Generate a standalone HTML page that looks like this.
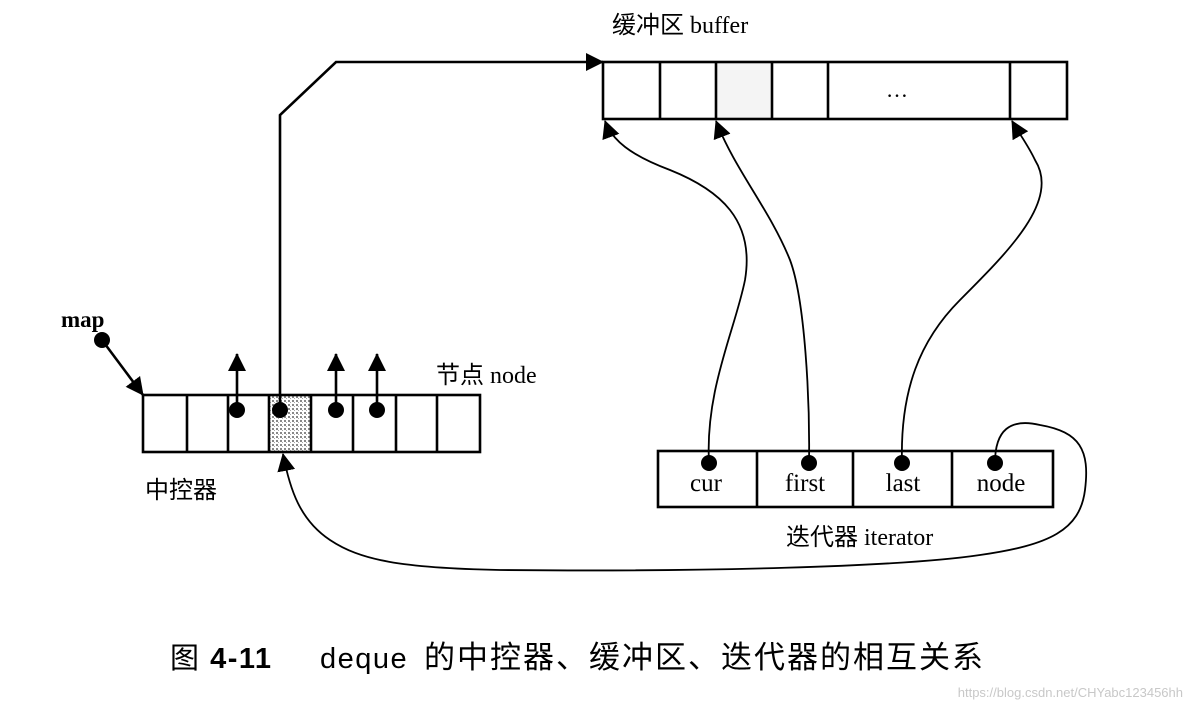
<!DOCTYPE html>
<html><head><meta charset="utf-8"><style>
html,body{margin:0;padding:0;background:#fff;}
svg{display:block}
text{font-family:"Liberation Serif","Noto Serif CJK SC",serif;fill:#000}
.cjk{font-family:"Liberation Serif","Noto Sans CJK SC",sans-serif}
</style></head><body>
<svg width="1195" height="705" viewBox="0 0 1195 705" xmlns="http://www.w3.org/2000/svg">
<defs>
<pattern id="dots" width="4" height="4" patternUnits="userSpaceOnUse">
<rect width="4" height="4" fill="#fff"/><rect x="0" y="0" width="2" height="2" fill="#888"/><rect x="2" y="2" width="1" height="1" fill="#aaa"/>
</pattern>
<marker id="ah2" markerWidth="18" markerHeight="18" refX="17" refY="9" orient="auto" markerUnits="userSpaceOnUse" viewBox="0 0 18 18"><path d="M0,0 L18,9 L0,18 z" fill="#000"/></marker>
</defs>
<g stroke="#000" stroke-width="2.6" fill="none">
<rect x="716" y="62" width="56" height="57" fill="#f4f4f4" stroke="none"/>
<rect x="603" y="62" width="464" height="57"/>
<line x1="660" y1="62" x2="660" y2="119"/><line x1="716" y1="62" x2="716" y2="119"/>
<line x1="772" y1="62" x2="772" y2="119"/><line x1="828" y1="62" x2="828" y2="119"/>
<line x1="1010" y1="62" x2="1010" y2="119"/>
<rect x="269" y="395" width="42" height="57" fill="url(#dots)" stroke="none"/>
<rect x="143" y="395" width="337" height="57"/>
<line x1="187" y1="395" x2="187" y2="452"/><line x1="228" y1="395" x2="228" y2="452"/>
<line x1="269" y1="395" x2="269" y2="452"/><line x1="311" y1="395" x2="311" y2="452"/>
<line x1="353" y1="395" x2="353" y2="452"/><line x1="396" y1="395" x2="396" y2="452"/>
<line x1="437" y1="395" x2="437" y2="452"/>
<rect x="658" y="451" width="395" height="56"/>
<line x1="757" y1="451" x2="757" y2="507"/><line x1="853" y1="451" x2="853" y2="507"/>
<line x1="952" y1="451" x2="952" y2="507"/>
<line x1="102" y1="340" x2="143" y2="395" marker-end="url(#ah2)"/>
<line x1="237" y1="410" x2="237" y2="354" marker-end="url(#ah2)"/>
<line x1="336" y1="410" x2="336" y2="354" marker-end="url(#ah2)"/>
<line x1="377" y1="410" x2="377" y2="354" marker-end="url(#ah2)"/>
<path d="M280 410 L280 115 L336 62 L603 62" marker-end="url(#ah2)"/>
<path d="M709 463 C705 390 735 330 745 280 C755 220 720 190 670 170 C630 155 612 140 605 121" stroke-width="1.8" marker-end="url(#ah2)"/>
<path d="M809 463 C810 400 805 300 790 260 C770 210 735 170 716 121" stroke-width="1.8" marker-end="url(#ah2)"/>
<path d="M902 463 C900 390 920 340 960 300 C1010 250 1060 200 1035 160 C1028 145 1020 135 1012 121" stroke-width="1.8" marker-end="url(#ah2)"/>
<path d="M995 463 C995 430 1010 418 1040 425 C1080 432 1090 450 1085 490 C1080 530 1050 545 980 555 C900 567 700 572 500 570 C400 568 360 560 330 540 C300 520 290 490 283 454" stroke-width="1.8" marker-end="url(#ah2)"/>
</g>
<g fill="#000">
<circle cx="102" cy="340" r="8"/>
<circle cx="237" cy="410" r="8"/><circle cx="280" cy="410" r="8"/>
<circle cx="336" cy="410" r="8"/><circle cx="377" cy="410" r="8"/>
<circle cx="709" cy="463" r="8"/><circle cx="809" cy="463" r="8"/>
<circle cx="902" cy="463" r="8"/><circle cx="995" cy="463" r="8"/>
</g>
<text x="886" y="97" font-size="22">…</text>
<text x="61" y="327" font-size="23" font-weight="bold">map</text>
<text x="436" y="383" font-size="24" class="cjk">节点 <tspan font-family="Liberation Serif">node</tspan></text>
<text x="145" y="498" font-size="24" class="cjk">中控器</text>
<text x="612" y="33" font-size="24" class="cjk">缓冲区 <tspan font-family="Liberation Serif">buffer</tspan></text>
<text x="706" y="491" font-size="25" text-anchor="middle">cur</text>
<text x="805" y="491" font-size="25" text-anchor="middle">first</text>
<text x="903" y="491" font-size="25" text-anchor="middle">last</text>
<text x="1001" y="491" font-size="25" text-anchor="middle">node</text>
<text x="786" y="545" font-size="24" class="cjk">迭代器 <tspan font-family="Liberation Serif">iterator</tspan></text>
<text x="170" y="668" font-size="29" style="font-family:'Liberation Sans','Noto Sans CJK SC',sans-serif;letter-spacing:1.5px">图 <tspan font-weight="bold">4-11</tspan><tspan x="320">deque</tspan><tspan x="424" font-size="31" style="letter-spacing:2px">的中控器、缓冲区、迭代器的相互关系</tspan></text>
<text x="1183" y="697" font-size="13" text-anchor="end" style="font-family:'Liberation Sans',sans-serif;fill:#c8c8c8">https://blog.csdn.net/CHYabc123456hh</text>
</svg>
</body></html>
